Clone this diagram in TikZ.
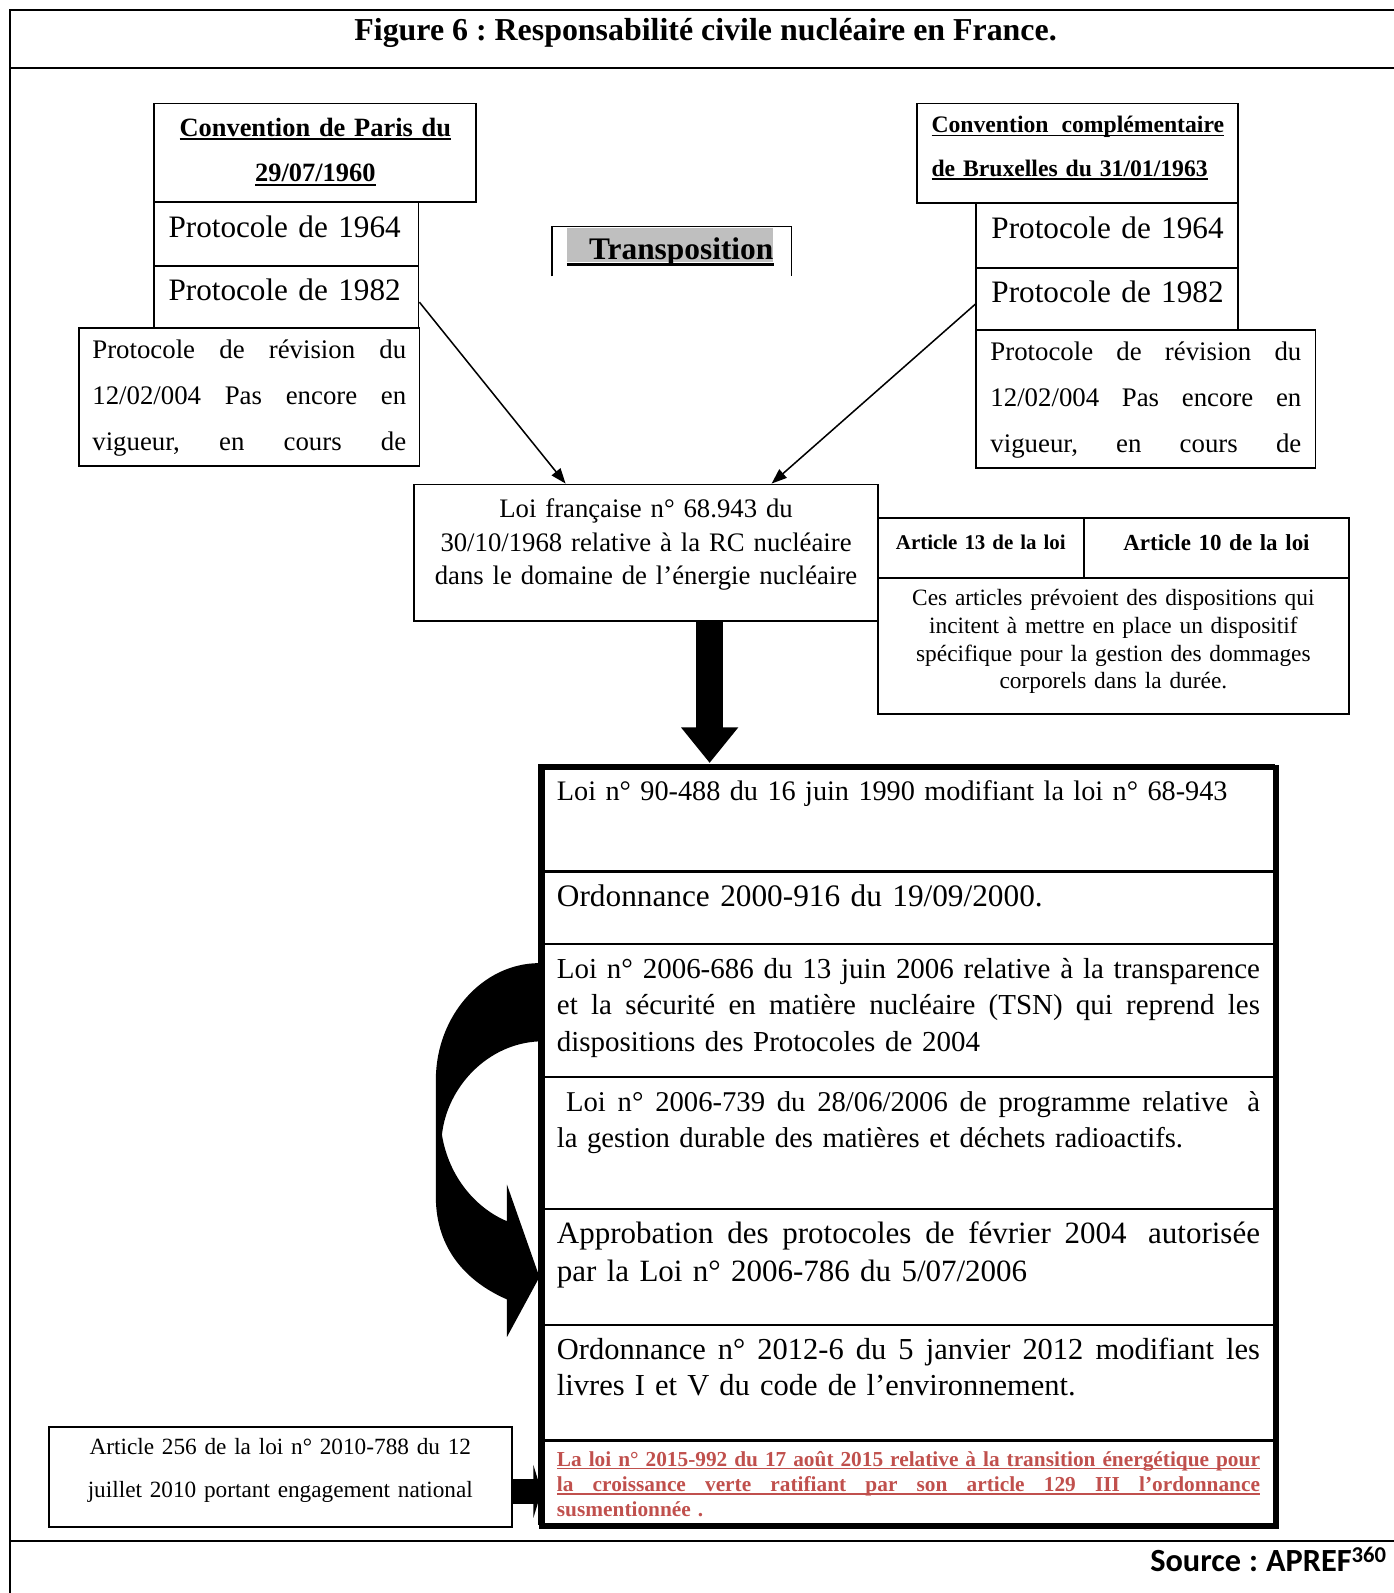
\documentclass[tikz,border=0pt]{standalone}
\usepackage{fontspec}
\setmainfont{Liberation Serif}
\newfontfamily\srcfont{Carlito}
\usepackage{xcolor}
\usepackage{tikz}
\usetikzlibrary{positioning, calc, arrows.meta}

\definecolor{loired}{HTML}{C0504D}
\frenchspacing
\newcommand{\setfs}[2]{\fontsize{#1}{#2}\selectfont\spaceskip=0.25em plus 0.5em minus 0.08em\relax}
\newsavebox{\ulbox}
\newcommand{\ulin}[1]{\leavevmode\sbox\ulbox{#1}\rlap{\rule[-0.16em]{\wd\ulbox}{0.07em}}\usebox\ulbox}
\newcommand{\jline}[2]{\leavevmode\hbox to #1{\spaceskip=0.25em plus 1fil minus 0.08em\relax #2}}

\begin{document}
\begin{tikzpicture}[x=1pt, y=-1pt,
  cell/.style={draw, line width=1.8pt, inner sep=0pt, anchor=north west},
  row/.style={draw, line width=2.5pt, inner sep=0pt, outer sep=0pt, anchor=north west, minimum width=723pt},
  rowtext/.style={inner sep=0pt, anchor=base west, text width=692pt, align=left},
  link/.style={line width=1.5pt, -{Triangle[length=15pt, width=11pt]}},
  bigarrow/.style={line width=27pt, -{Triangle[length=35pt, width=54pt]}}
]
  \useasboundingbox (0,0) rectangle (1372,1568);

  % frame and title
  \draw[line width=2pt] (10,10) -- (1372,10);
  \draw[line width=2pt] (10,67) -- (1372,67);
  \draw[line width=2pt] (10,1517) -- (1372,1517);
  \draw[line width=2pt] (10,9) -- (10,1568);
  \node[anchor=base, inner sep=0pt, font=\bfseries\setfs{31.4}{36}] (title) at (694.5,40) {Figure 6 : Responsabilité civile nucléaire en France.};

  % Paris side
  \node[cell, minimum width=317, minimum height=97, text width=317, align=center, text height=18pt, text depth=51pt, font=\bfseries\setfs{26}{45}] (parisL) at (151,101) {\ulin{Convention de Paris du}\\\ulin{29/07/1960}};
  \node[cell, minimum width=260, minimum height=63, text width=232, inner xsep=14pt, align=left, text height=22pt, text depth=15pt, font=\setfs{30.7}{36}] (p64L) at (151,198) {\makebox[232pt][l]{Protocole de 1964}};
  \node[cell, minimum width=260, minimum height=61, text width=232, inner xsep=14pt, align=left, text height=22pt, text depth=15pt, font=\setfs{30.7}{36}] (p82L) at (151,261) {\makebox[232pt][l]{Protocole de 1982}};
  \node[cell, minimum width=335, minimum height=136, text width=309, inner xsep=13pt, align=left, text height=21pt, text depth=98pt, font=\setfs{26.4}{45.5}] (revL) at (77,322) {\jline{309pt}{Protocole de révision du}\\\jline{309pt}{12/02/004 Pas encore en}\\\jline{309pt}{vigueur, en cours de}};

  % Bruxelles side
  \node[cell, minimum width=316, minimum height=98, text width=288, inner xsep=14pt, align=left, text height=17pt, text depth=58pt, font=\bfseries\setfs{23.3}{43}] (brux) at (902,101) {\ulin{\jline{288pt}{Convention complémentaire}}\\\ulin{de Bruxelles du 31/01/1963}};
  \node[cell, minimum width=258, minimum height=64, text width=228, inner xsep=15pt, align=left, text height=22pt, text depth=17pt, font=\setfs{30.7}{36}] (p64R) at (960,199) {\makebox[228pt][l]{Protocole de 1964}};
  \node[cell, minimum width=258, minimum height=61, text width=228, inner xsep=15pt, align=left, text height=22pt, text depth=15pt, font=\setfs{30.7}{36}] (p82R) at (960,263) {\makebox[228pt][l]{Protocole de 1982}};
  \node[cell, minimum width=334, minimum height=136, text width=306, inner xsep=14pt, align=left, text height=21pt, text depth=98pt, font=\setfs{26.4}{45.5}] (revR) at (960,324) {\jline{306pt}{Protocole de révision du}\\\jline{306pt}{12/02/004 Pas encore en}\\\jline{306pt}{vigueur, en cours de}};

  % transposition
  \draw[line width=1.8pt] (543,272) -- (543,223) -- (779,223) -- (779,272);
  \node[fill=black!25, inner sep=0pt, anchor=south west, text width=203pt, align=right, text height=31pt, text depth=2pt, font=\bfseries\setfs{30.9}{36}] (trans) at (558,258) {Transposition};
  \draw[line width=3pt] ([yshift=-2.5pt]trans.south west) -- ([yshift=-2.5pt]trans.south east);

  % french law and articles
  \node[cell, minimum width=456, minimum height=134, text width=456, align=center, text height=19pt, text depth=88pt, font=\setfs{26.3}{33}] (loi) at (407,476) {Loi française n° 68.943 du\\30/10/1968 relative à la RC nucléaire\\dans le domaine de l’énergie nucléaire};
  \node[cell, minimum width=203, minimum height=59, text width=203, align=center, text height=15pt, text depth=12pt, font=\bfseries\setfs{20.6}{25}] (a13) at (863,509) {Article 13 de la loi};
  \node[cell, minimum width=261, minimum height=59, text width=261, align=center, text height=16pt, text depth=12pt, font=\bfseries\setfs{22.6}{28}] (a10) at (1066,509) {Article 10 de la loi};
  \node[cell, minimum width=464, minimum height=134, text width=464, align=center, text height=17pt, text depth=97.5pt, font=\setfs{23}{27.5}] (ces) at (863,568) {Ces articles prévoient des dispositions qui\\incitent à mettre en place un dispositif\\spécifique pour la gestion des dommages\\corporels dans la durée.};

  \draw[link] ([yshift=-5pt]p82L.east) -- ($(loi.north west)!0.327!(loi.north east)$);
  \draw[link] ([yshift=-5pt]p82R.west) -- ($(loi.north west)!0.77!(loi.north east)$);

  \coordinate (tipA) at (698.5,751);
  \draw[bigarrow] (loi.south -| tipA) -- (tipA);

  % later texts
  \node[row, minimum height=105] (r1) at (531,753) {};
  \node[row, minimum height=71, below=0pt of r1] (r2) {};
  \node[row, minimum height=131, below=0pt of r2] (r3) {};
  \node[row, minimum height=130, below=0pt of r3] (r4) {};
  \node[row, minimum height=114, below=0pt of r4] (r5) {};
  \node[row, minimum height=114, below=0pt of r5] (r6) {};
  \node[row, minimum height=82, below=0pt of r6] (r7) {};

  \node[rowtext, font=\setfs{27.8}{36}] (t1) at (548,788) {Loi n° 90-488 du 16 juin 1990 modifiant la loi n° 68-943};
  \node[rowtext, font=\setfs{30.8}{36}] (t2) at (548,892) {Ordonnance 2000-916 du 19/09/2000.};
  \node[rowtext, font=\setfs{28.5}{36}] (t3) at (548,963) {\jline{692pt}{Loi n° 2006-686 du 13 juin 2006 relative à la transparence}\\\jline{692pt}{et la sécurité en matière nucléaire (TSN) qui reprend les}\\dispositions des Protocoles de 2004};
  \node[rowtext, font=\setfs{28.2}{35}] (t4) at (548,1094) {\jline{692pt}{\hspace{9pt}Loi n° 2006-739 du 28/06/2006 de programme relative\hspace{0.25em} à}\\la gestion durable des matières et déchets radioactifs.};
  \node[rowtext, font=\setfs{30.5}{37}] (t5) at (548,1224) {\jline{692pt}{Approbation des protocoles de février 2004\hspace{0.25em} autorisée}\\par la Loi n° 2006-786 du 5/07/2006};
  \node[rowtext, font=\setfs{30}{36}] (t6) at (548,1338) {\jline{692pt}{Ordonnance n° 2012-6 du 5 janvier 2012 modifiant les}\\livres I et V du code de l’environnement.};
  \node[rowtext, text=loired, font=\bfseries\setfs{21}{25}] (t7) at (548,1443) {\ulin{\jline{692pt}{La loi n° 2015-992 du 17 août 2015 relative à la transition énergétique pour}}\\\ulin{\jline{692pt}{la croissance verte ratifiant par son article 129 III l’ordonnance}}\\susmentionnée .};

  % curved arrow from r3 to r5
  \fill ([yshift=46.5pt]r3.west) .. controls (475,948) and (429,1000) .. (429,1063) -- (429,1178)
    .. controls (429,1230) and (460,1262) .. (499,1279) -- (499,1316) -- ([yshift=-10pt]r5.west)
    -- (499,1166) -- (499,1202) .. controls (470,1190) and (442,1160) .. (435,1117)
    .. controls (440,1070) and (480,1027) .. ([yshift=-30.5pt]r3.west) -- cycle;

  \node[draw, line width=5pt, inner sep=0pt, anchor=north west, minimum width=723, minimum height=747] (main) at (531,753) {};

  % article 256
  \node[cell, minimum width=456, minimum height=98, text width=456, align=center, text height=17pt, text depth=61pt, font=\setfs{22.9}{42}] (art) at (47,1404) {Article 256 de la loi n° 2010-788 du 12\\juillet 2010 portant engagement national};
  \coordinate (tipB) at (533,1468);
  \draw[line width=24pt, -{Triangle[length=8pt, width=52pt]}] (art.east |- tipB) -- (tipB);

  \node[anchor=base east, inner sep=0pt, font=\srcfont\bfseries\setfs{31.8}{36}] (src) at (1365,1547) {Source : APREF\textsuperscript{360}};
\end{tikzpicture}
\end{document}
